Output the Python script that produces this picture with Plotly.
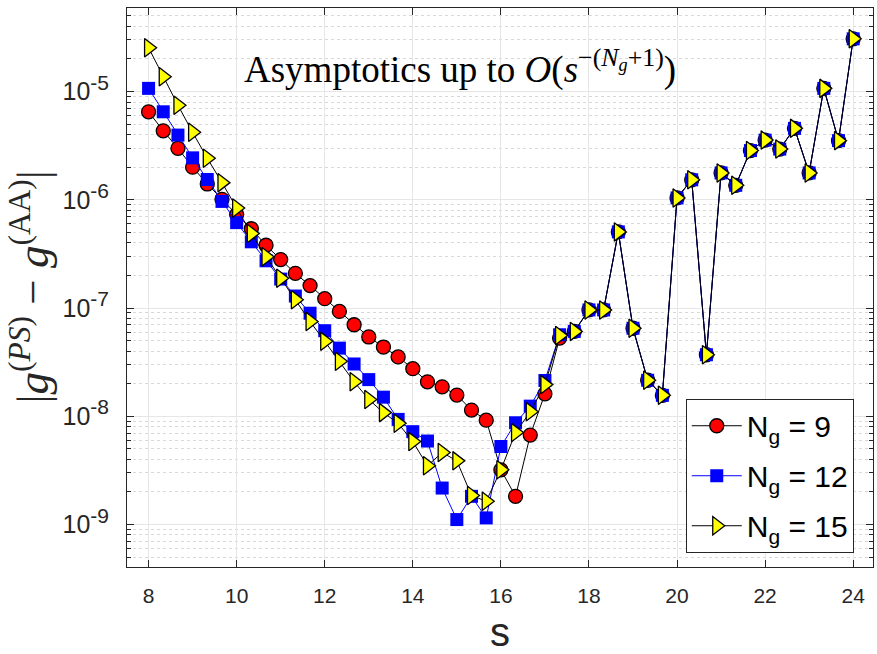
import plotly.graph_objects as go

s_vals = [8.000, 8.333, 8.667, 9.000, 9.333, 9.667, 10.000, 10.333, 10.667, 11.000,
          11.333, 11.667, 12.000, 12.333, 12.667, 13.000, 13.333, 13.667, 14.000, 14.333,
          14.667, 15.000, 15.333, 15.667, 16.000, 16.333, 16.667, 17.000, 17.333, 17.667,
          18.000, 18.333, 18.667, 19.000, 19.333, 19.667, 20.000, 20.333, 20.667, 21.000,
          21.333, 21.667, 22.000, 22.333, 22.667, 23.000, 23.333, 23.667, 24.000]

err_ng9 = [6.5e-6, 4.34e-6, 2.99e-6, 2.0e-6, 1.4e-6, 1.01e-6, 7.3e-7, 5.4e-7, 3.8e-7, 2.8e-7,
           2.09e-7, 1.61e-7, 1.22e-7, 9.3e-8, 7.0e-8, 5.4e-8, 4.36e-8, 3.53e-8, 2.75e-8, 2.08e-8,
           1.87e-8, 1.57e-8, 1.14e-8, 9.2e-9, 3.2e-9, 1.82e-9, 6.7e-9, 1.61e-8, 5.27e-8, 6.08e-8,
           9.6e-8, 9.6e-8, 5.05e-7, 6.5e-8, 2.15e-8, 1.56e-8, 1.04e-6, 1.53e-6, 3.7e-8, 1.77e-6,
           1.36e-6, 2.85e-6, 3.56e-6, 2.94e-6, 4.57e-6, 1.77e-6, 1.07e-5, 3.52e-6, 3.07e-5]

err_ng12 = [1.07e-5, 6.5e-6, 3.96e-6, 2.44e-6, 1.54e-6, 9.66e-7, 6.15e-7, 4.09e-7, 2.73e-7, 1.85e-7,
            1.29e-7, 8.95e-8, 6.17e-8, 4.26e-8, 3.04e-8, 2.18e-8, 1.5e-8, 9.35e-9, 7.2e-9, 5.9e-9,
            2.17e-9, 1.11e-9, 1.82e-9, 1.15e-9, 5.25e-9, 8.7e-9, 1.24e-8, 2.14e-8, 5.66e-8, 6.08e-8,
            9.6e-8, 9.6e-8, 5.05e-7, 6.5e-8, 2.15e-8, 1.56e-8, 1.04e-6, 1.53e-6, 3.7e-8, 1.77e-6,
            1.36e-6, 2.85e-6, 3.56e-6, 2.94e-6, 4.57e-6, 1.77e-6, 1.07e-5, 3.52e-6, 3.07e-5]

err_ng15 = [2.54e-5, 1.37e-5, 7.48e-6, 4.2e-6, 2.42e-6, 1.44e-6, 8.4e-7, 4.88e-7, 2.98e-7, 1.88e-7,
            1.19e-7, 7.5e-8, 4.92e-8, 3.22e-8, 2.08e-8, 1.43e-8, 1.08e-8, 8.6e-9, 5.83e-9, 3.49e-9,
            4.62e-9, 3.87e-9, 1.85e-9, 1.64e-9, 3.2e-9, 7.06e-9, 1.1e-8, 1.96e-8, 5.58e-8, 6.08e-8,
            9.6e-8, 9.6e-8, 5.05e-7, 6.5e-8, 2.15e-8, 1.56e-8, 1.04e-6, 1.53e-6, 3.7e-8, 1.77e-6,
            1.36e-6, 2.85e-6, 3.56e-6, 2.94e-6, 4.57e-6, 1.77e-6, 1.07e-5, 3.52e-6, 3.07e-5]

x_ticks = [8, 10, 12, 14, 16, 18, 20, 22, 24]
y_major = [1e-9, 1e-8, 1e-7, 1e-6, 1e-5]
y_exponents = ["-9", "-8", "-7", "-6", "-5"]
y_major_text = ["10<sup><span style='font-size:21px'>%s</span></sup>" % e for e in y_exponents]
y_minor = [m * 10.0 ** e for e in range(-10, -4) for m in range(2, 10)]

AX = "#262626"

fig = go.Figure()
fig.add_trace(go.Scatter(
    x=s_vals, y=err_ng9, mode="lines+markers", name="N<sub>g</sub> = 9", legendgroup="a",
    line=dict(color="black", width=1),
    marker=dict(symbol="circle", size=14, color="red", line=dict(color="black", width=1.3))))
fig.add_trace(go.Scatter(
    x=s_vals, y=err_ng12, mode="lines+markers", name="N<sub>g</sub> = 12", legendgroup="b",
    line=dict(color="blue", width=1),
    marker=dict(symbol="square", size=13, color="blue", line=dict(color="blue", width=0))))
fig.add_trace(go.Scatter(
    x=s_vals, y=err_ng15, mode="lines+markers", name="N<sub>g</sub> = 15", legendgroup="c",
    line=dict(color="black", width=1),
    marker=dict(symbol="triangle-right", size=16, color="yellow", line=dict(color="black", width=1.3))))

fig.update_layout(
    width=877, height=654,
    margin=dict(l=127, r=3, t=8, b=84),
    paper_bgcolor="white", plot_bgcolor="white",
    font=dict(family="Liberation Sans, Arial, sans-serif", color=AX),
    showlegend=True,
    legend=dict(x=0.749, y=0.301, xanchor="left", yanchor="top",
                bgcolor="white", bordercolor=AX, borderwidth=1,
                font=dict(size=30, color="black", family="Liberation Sans, Arial, sans-serif"),
                itemwidth=50, tracegroupgap=8),
)

fig.update_xaxes(
    range=[7.51, 24.45], tickmode="array", tickvals=x_ticks,
    ticks="inside", ticklen=7, tickcolor=AX, tickwidth=1,
    showline=True, linecolor=AX, linewidth=1, mirror="allticks",
    showgrid=True, gridcolor="#e6e6e6", gridwidth=1, zeroline=False,
    tickfont=dict(size=21, color=AX), ticklabelstandoff=10,
    title=dict(text="s", font=dict(size=40, color=AX), standoff=16),
)
fig.update_yaxes(
    type="log", range=[-9.393, -4.228], tickmode="array",
    tickvals=y_major, ticktext=y_major_text,
    ticks="inside", ticklen=7, tickcolor=AX, tickwidth=1,
    showline=True, linecolor=AX, linewidth=1, mirror="allticks",
    showgrid=True, gridcolor="#e6e6e6", gridwidth=1, zeroline=False,
    tickfont=dict(size=25, color=AX), ticklabelstandoff=12,
    minor=dict(tickmode="array", tickvals=y_minor, ticks="inside", ticklen=4,
               tickcolor=AX, showgrid=True, gridcolor="#d9d9d9", griddash="dot", gridwidth=1),
)

fig.add_annotation(
    xref="paper", yref="paper", x=0.4465, y=0.894, xanchor="center", yanchor="middle",
    showarrow=False,
    text="Asymptotics up to <i>O</i>(<i>s</i><sup>−(<i>N</i><sub><i>g</i></sub>+1)</sup>)",
    font=dict(family="Liberation Serif, Times New Roman, serif", size=37, color="black"),
)
fig.add_annotation(
    xref="paper", yref="paper", x=-0.13, y=0.5, xanchor="center", yanchor="middle",
    showarrow=False, textangle=-90,
    text="|<i>g</i><sup>(<i>PS</i>)</sup> − <i>g</i><sup>(AA)</sup>|",
    font=dict(family="Liberation Serif, Times New Roman, serif", size=45, color=AX),
)

fig.write_html("out.html")
